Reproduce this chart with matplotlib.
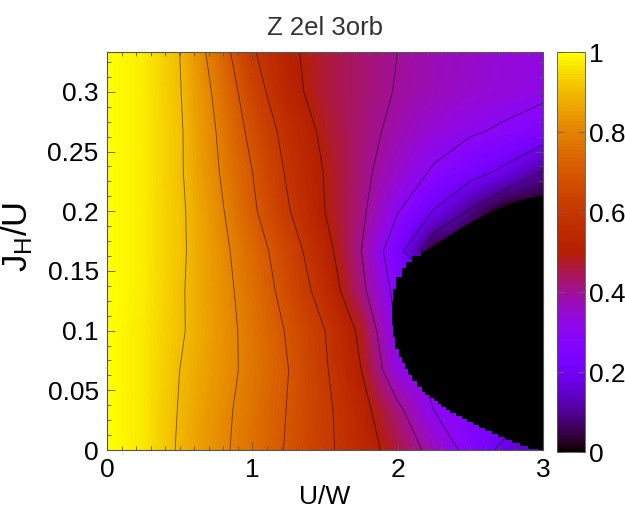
import numpy as np
import matplotlib
matplotlib.use("Agg")
import matplotlib.pyplot as plt
from matplotlib.ticker import FixedLocator, MultipleLocator, FuncFormatter

plt.rcParams["font.family"] = ["Liberation Sans", "DejaVu Sans"]
plt.rcParams["mathtext.fontset"] = "custom"
plt.rcParams["mathtext.rm"] = "Liberation Sans"
plt.rcParams["mathtext.it"] = "Liberation Sans"

# Hubbard interaction U/W (columns) and Hund's coupling J_H/U (rows), uniform steps
u_over_w = [0.0, 0.25, 0.5, 0.75, 1.0, 1.25, 1.5, 1.75, 2.0, 2.25, 2.5, 2.75, 3.0]
jh_over_u = [0.0, 1 / 30, 2 / 30, 3 / 30, 4 / 30, 5 / 30, 6 / 30, 7 / 30, 8 / 30, 9 / 30, 10 / 30]

# Quasiparticle weight Z, one row per J_H/U value.  Points inside the
# Mott-insulating region (drawn in black below) carry the metallic-side value.
z_weight = [
    [1.00, 0.970, 0.890, 0.825, 0.760, 0.690, 0.620, 0.545, 0.460, 0.370, 0.265, 0.170, 0.120],
    [1.00, 0.970, 0.895, 0.830, 0.765, 0.695, 0.620, 0.530, 0.420, 0.300, 0.270, 0.250, 0.240],
    [1.00, 0.970, 0.900, 0.840, 0.775, 0.700, 0.610, 0.500, 0.330, 0.280, 0.260, 0.250, 0.240],
    [1.00, 0.970, 0.910, 0.845, 0.770, 0.690, 0.600, 0.480, 0.290, 0.270, 0.260, 0.250, 0.240],
    [1.00, 0.975, 0.910, 0.840, 0.760, 0.665, 0.560, 0.420, 0.270, 0.260, 0.250, 0.240, 0.240],
    [1.00, 0.975, 0.915, 0.835, 0.745, 0.645, 0.530, 0.400, 0.235, 0.020, 0.000, 0.000, 0.000],
    [1.00, 0.975, 0.915, 0.825, 0.715, 0.605, 0.500, 0.415, 0.305, 0.195, 0.090, 0.000, 0.000],
    [1.00, 0.975, 0.910, 0.810, 0.700, 0.585, 0.495, 0.420, 0.355, 0.290, 0.235, 0.180, 0.100],
    [1.00, 0.975, 0.910, 0.800, 0.675, 0.565, 0.480, 0.425, 0.380, 0.340, 0.310, 0.285, 0.250],
    [1.00, 0.975, 0.905, 0.785, 0.645, 0.525, 0.465, 0.430, 0.395, 0.370, 0.350, 0.335, 0.320],
    [1.00, 0.975, 0.900, 0.760, 0.610, 0.515, 0.465, 0.430, 0.400, 0.375, 0.355, 0.340, 0.330],
]

# Left boundary of the Mott insulator (Z = 0): critical U/W for each J_H/U
mott_jh = [0.0000, 0.0025, 0.0050, 0.0075, 0.0100, 0.0125, 0.0150, 0.0175, 0.0200,
           0.0225, 0.0250, 0.0275, 0.0300, 0.0325, 0.0350, 0.0375, 0.0400, 0.0425,
           0.0450, 0.0475, 0.0500, 0.0550, 0.0600, 0.0650, 0.0700, 0.0750, 0.0800,
           0.0900, 0.1000, 0.1100, 0.1200, 0.1300, 0.1400, 0.1500, 0.1550, 0.1600, 0.1650]
mott_uc = [2.97, 2.90, 2.84, 2.79, 2.74, 2.69, 2.65, 2.60, 2.56,
           2.52, 2.48, 2.44, 2.40, 2.36, 2.33, 2.30, 2.28, 2.25,
           2.22, 2.19, 2.17, 2.13, 2.10, 2.07, 2.05, 2.03, 2.01,
           1.98, 1.97, 1.96, 1.96, 1.97, 1.99, 2.03, 2.06, 2.10, 2.16]

# Upper edge of the insulating region
mott_top_u = [2.16, 2.22, 2.30, 2.45, 2.60, 2.77, 2.90, 3.00]
mott_top_j = [0.165, 0.169, 0.175, 0.187, 0.197, 0.206, 0.211, 0.213]

contour_levels = [0.1, 0.2, 0.3, 0.4, 0.5, 0.6, 0.7, 0.8, 0.9]
cbar_ticks = [0, 0.2, 0.4, 0.6, 0.8, 1]

fig = plt.figure(figsize=(6.25, 5.16), dpi=100)
ax = fig.add_axes([107 / 625, 1 - 450 / 516, 436 / 625, 398 / 516])

zz = np.asarray(z_weight)
du = u_over_w[1] - u_over_w[0]
dj = jh_over_u[1] - jh_over_u[0]
# pixel centres sit on the grid points; bilinear shading between them
extent = [u_over_w[0] - du / 2, u_over_w[-1] + du / 2,
          jh_over_u[0] - dj / 2, jh_over_u[-1] + dj / 2]
img = ax.imshow(zz, origin="lower", extent=extent, aspect="auto", cmap="gnuplot",
                vmin=0, vmax=1, interpolation="bilinear", zorder=1)
ax.contour(u_over_w, jh_over_u, zz, levels=contour_levels, colors="black",
           linewidths=0.6, alpha=0.55, zorder=2)

# insulating region: stepped left edge plus the cap above it
ax.fill_betweenx(mott_jh, mott_uc, 3.0, step="mid", color="black", lw=0, zorder=3)
cap_u = mott_top_u + [3.0, mott_top_u[0]]
cap_j = mott_top_j + [mott_jh[-2], mott_jh[-2]]
ax.fill(cap_u, cap_j, color="black", lw=0, zorder=3)

ax.set_xlim(0, 3)
ax.set_ylim(0, 1 / 3)

fmt = FuncFormatter(lambda v, p: "%g" % round(v, 3))
ax.xaxis.set_major_locator(FixedLocator([0, 1, 2, 3]))
ax.yaxis.set_major_locator(FixedLocator([0, 0.05, 0.1, 0.15, 0.2, 0.25, 0.3]))
ax.xaxis.set_major_formatter(fmt)
ax.yaxis.set_major_formatter(fmt)
ax.xaxis.set_minor_locator(MultipleLocator(0.1))
ax.yaxis.set_minor_locator(MultipleLocator(0.0125))
ax.tick_params(which="both", direction="in", top=True, right=True, color="#555555",
               labelsize=19, width=0.6, zorder=5)
ax.tick_params(which="major", length=6, pad=6)
ax.tick_params(which="minor", length=3)
for s in ax.spines.values():
    s.set_linewidth(0.8)
    s.set_color("#555555")
    s.set_zorder(6)

ax.set_xlabel("U/W", fontsize=19, labelpad=2)
ax.set_ylabel(r"J$_\mathregular{H}$/U", fontsize=25, labelpad=0)
ax.yaxis.set_label_coords(-0.165, 0.535)
ax.set_title("Z 2el 3orb", fontsize=18.5, color="#333333", pad=12)

cax = fig.add_axes([557 / 625, 1 - 452 / 516, 28 / 625, 400 / 516])
cb = fig.colorbar(img, cax=cax, ticks=cbar_ticks)
cb.ax.yaxis.set_major_formatter(fmt)
cb.ax.tick_params(direction="in", length=5, width=0.6, color="#666666",
                  labelsize=19, pad=3, left=True)
cb.outline.set_linewidth(0.6)
cb.outline.set_edgecolor("#555555")

fig.savefig("out.png", dpi=100)
